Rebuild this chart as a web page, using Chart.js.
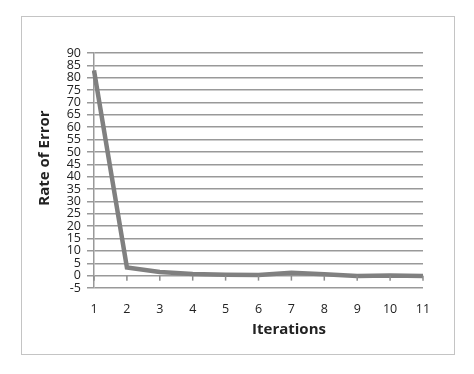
<!DOCTYPE html>
<html>
<head>
<meta charset="utf-8">
<script src="https://cdn.jsdelivr.net/npm/chart.js@4"></script>
<style>
  html, body { margin: 0; padding: 0; background: #fff; }
  #wrap { width: 474px; height: 374px; }
</style>
</head>
<body>
<div id="wrap"><canvas id="my_chart" width="474" height="374"></canvas></div>
<script>
const iterations = ['1', '2', '3', '4', '5', '6', '7', '8', '9', '10', '11'];
const error_rate = [83, 3.3, 1.5, 0.7, 0.4, 0.3, 1.2, 0.6, -0.1, 0.1, -0.1];
const y_min = -5;
const y_max = 90;
const y_step = 5;
const x_title = 'Iterations';
const y_title = 'Rate of Error';

const title_font = 'bold 15px "Open Sans"';

// outer frame, axis titles, and tick marks on the zero line (category axis crosses at 0)
const frame_and_ticks = {
  id: 'frame_and_ticks',
  beforeDraw(chart) {
    const ctx = chart.ctx;
    ctx.save();
    ctx.strokeStyle = '#c4c4c4';
    ctx.lineWidth = 1;
    ctx.strokeRect(21.5, 16.5, 433, 338);
    ctx.restore();
  },
  afterDraw(chart) {
    const ctx = chart.ctx;
    const x = chart.scales.x;
    const y0 = chart.scales.y.getPixelForValue(0);
    ctx.save();
    ctx.strokeStyle = '#8c8c8c';
    ctx.lineWidth = 1.5;
    for (let i = 0; i < iterations.length; i++) {
      const px = x.getPixelForValue(i);
      ctx.beginPath();
      ctx.moveTo(px, y0);
      ctx.lineTo(px, y0 + 5);
      ctx.stroke();
    }
    ctx.fillStyle = '#222';
    ctx.font = title_font;
    ctx.textAlign = 'center';
    ctx.textBaseline = 'middle';
    ctx.fillText(x_title, 289, 330);
    ctx.translate(45, 158);
    ctx.rotate(-Math.PI / 2);
    ctx.fillText(y_title, 0, 0);
    ctx.restore();
  }
};

function create_chart() {
  const data = {
    labels: iterations,
    datasets: [{
      label: y_title,
      data: error_rate,
      borderColor: '#808080',
      borderWidth: 4.5,
      pointRadius: 0,
      tension: 0,
      fill: false
    }]
  };

  const config = {
    type: 'line',
    data,
    options: {
      responsive: false,
      animation: false,
      layout: { padding: { left: 22, top: 53, right: 51, bottom: 34 } },
      plugins: {
        legend: { display: false },
        tooltip: { enabled: false }
      },
      scales: {
        x: {
          offset: false,
          grid: { display: false, drawTicks: false },
          border: { display: false },
          ticks: {
            padding: 14,
            color: '#222',
            maxRotation: 0,
            autoSkip: false,
            font: { family: 'Open Sans', size: 12.5 }
          },
          afterFit(scale) { scale.height = 52; }
        },
        y: {
          min: y_min,
          max: y_max,
          grid: { color: '#999', lineWidth: 1.5, tickLength: 7 },
          border: { display: true, color: '#999', width: 1.5 },
          ticks: {
            stepSize: y_step,
            autoSkip: false,
            padding: 6,
            color: '#222',
            font: { family: 'Open Sans', size: 12.5 }
          },
          afterFit(scale) { scale.width = 72; }
        }
      }
    },
    plugins: [frame_and_ticks]
  };

  new Chart(document.getElementById('my_chart').getContext('2d'), config);
}

create_chart();
</script>
</body>
</html>
